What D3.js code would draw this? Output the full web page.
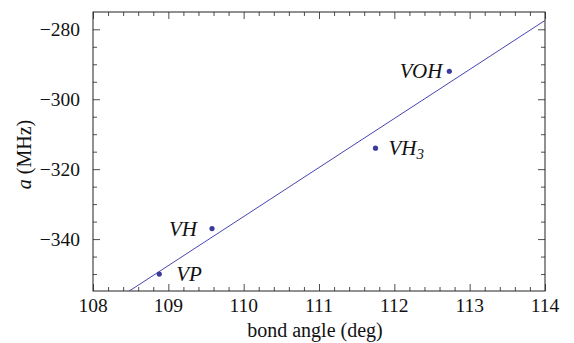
<!DOCTYPE html>
<html><head><meta charset="utf-8">
<script src="https://cdnjs.cloudflare.com/ajax/libs/d3/7.8.5/d3.min.js"></script>
<style>body{margin:0;background:#fff}svg{display:block}svg text{font-family:"Liberation Serif","Times New Roman",Times,serif}</style>
</head><body>
<script>
const molecules = ["VP", "VH", "VH3", "VOH"];
const bondAngle = [108.88, 109.58, 111.75, 112.73];
const hyperfineA = [-350, -337, -314, -292];
const xTicks = [108, 109, 110, 111, 112, 113, 114];
const yTicks = [-340, -320, -300, -280];

const W = 574, H = 343;
const m = {l: 93, r: 29, t: 12, b: 52};
const svg = d3.select("body").append("svg").attr("width", W).attr("height", H);
const x = d3.scaleLinear().domain([108, 114]).range([m.l, W - m.r]);
const y = d3.scaleLinear().domain([-354.85, -275.05]).range([H - m.b, m.t]);
const col = "#3b3b9c";
const txt = "#111";

// least squares fit
const mx = d3.mean(bondAngle), my = d3.mean(hyperfineA);
const sxy = d3.sum(bondAngle, (v, i) => (v - mx) * (hyperfineA[i] - my));
const sxx = d3.sum(bondAngle, v => (v - mx) * (v - mx));
const slope = sxy / sxx, icpt = my - slope * mx;

svg.append("defs").append("clipPath").attr("id", "clip").append("rect")
  .attr("x", m.l).attr("y", m.t).attr("width", W - m.l - m.r).attr("height", H - m.t - m.b);

const minorX = d3.range(108, 114.001, 0.2).filter(v => Math.abs(v - Math.round(v)) > 0.01);
const minorY = d3.range(-350, -275, 5).filter(v => v % 20 !== 0);
const fmt = d => (d < 0 ? "\u2212" + Math.abs(d) : "" + d);

function ax(gen, tr, vals, size) {
  const g = svg.append("g").attr("transform", tr).call(gen.tickValues(vals).tickSize(size).tickSizeOuter(0).tickFormat(""));
  g.select(".domain").remove();
  g.selectAll(".tick line").attr("stroke", "#222").attr("stroke-width", 0.8);
  return g;
}
ax(d3.axisTop(x), `translate(0,${H - m.b})`, xTicks, 7);
ax(d3.axisTop(x), `translate(0,${H - m.b})`, minorX, 4);
ax(d3.axisBottom(x), `translate(0,${m.t})`, xTicks, 7);
ax(d3.axisBottom(x), `translate(0,${m.t})`, minorX, 4);
ax(d3.axisRight(y), `translate(${m.l},0)`, yTicks, 7);
ax(d3.axisRight(y), `translate(${m.l},0)`, minorY, 4);
ax(d3.axisLeft(y), `translate(${W - m.r},0)`, yTicks, 7);
ax(d3.axisLeft(y), `translate(${W - m.r},0)`, minorY, 4);

// tick labels
svg.append("g").selectAll("text").data(xTicks).join("text")
  .attr("x", d => x(d)).attr("y", H - m.b + 21).attr("text-anchor", "middle")
  .attr("font-size", 19.5).attr("fill", txt).text(d => d);
svg.append("g").selectAll("text").data(yTicks).join("text")
  .attr("x", m.l - 13).attr("y", d => y(d) + 6.5).attr("text-anchor", "end")
  .attr("font-size", 19.5).attr("fill", txt).text(fmt);

// frame
svg.append("rect").attr("x", m.l).attr("y", m.t).attr("width", W - m.l - m.r).attr("height", H - m.t - m.b)
  .attr("fill", "none").attr("stroke", "#222").attr("stroke-width", 1);

// fit line
const xd = x.domain();
svg.append("line").attr("clip-path", "url(#clip)")
  .attr("x1", x(xd[0])).attr("y1", y(slope * xd[0] + icpt))
  .attr("x2", x(xd[1])).attr("y2", y(slope * xd[1] + icpt))
  .attr("stroke", "#4646b0").attr("stroke-width", 1);

// points
svg.append("g").selectAll("circle").data(bondAngle).join("circle")
  .attr("cx", d => x(d)).attr("cy", (d, i) => y(hyperfineA[i])).attr("r", 2.6).attr("fill", col);

// labels
const labOff = {VP: [17, "start"], VH: [-15, "end"], VH3: [13, "start"], VOH: [-7, "end"]};
molecules.forEach((n, i) => {
  const t = svg.append("text").attr("x", x(bondAngle[i]) + labOff[n][0]).attr("y", y(hyperfineA[i]) + 7)
    .attr("text-anchor", labOff[n][1]).attr("font-style", "italic")
    .attr("font-size", 21).attr("fill", txt);
  if (n === "VH3") {
    t.append("tspan").text("VH");
    t.append("tspan").attr("font-size", 15).attr("dy", 4).text("3");
  } else t.text(n);
});

// axis titles
svg.append("text").attr("x", (m.l + W - m.r) / 2 - 4).attr("y", 337).attr("text-anchor", "middle")
  .attr("font-size", 20).attr("fill", txt).text("bond angle (deg)");
const yt = svg.append("text").attr("transform", `translate(31,${(m.t + H - m.b) / 2 + 3}) rotate(-90)`)
  .attr("text-anchor", "middle").attr("font-size", 20).attr("fill", txt);
yt.append("tspan").attr("font-style", "italic").text("a");
yt.append("tspan").text(" (MHz)");
</script>
</body></html>
